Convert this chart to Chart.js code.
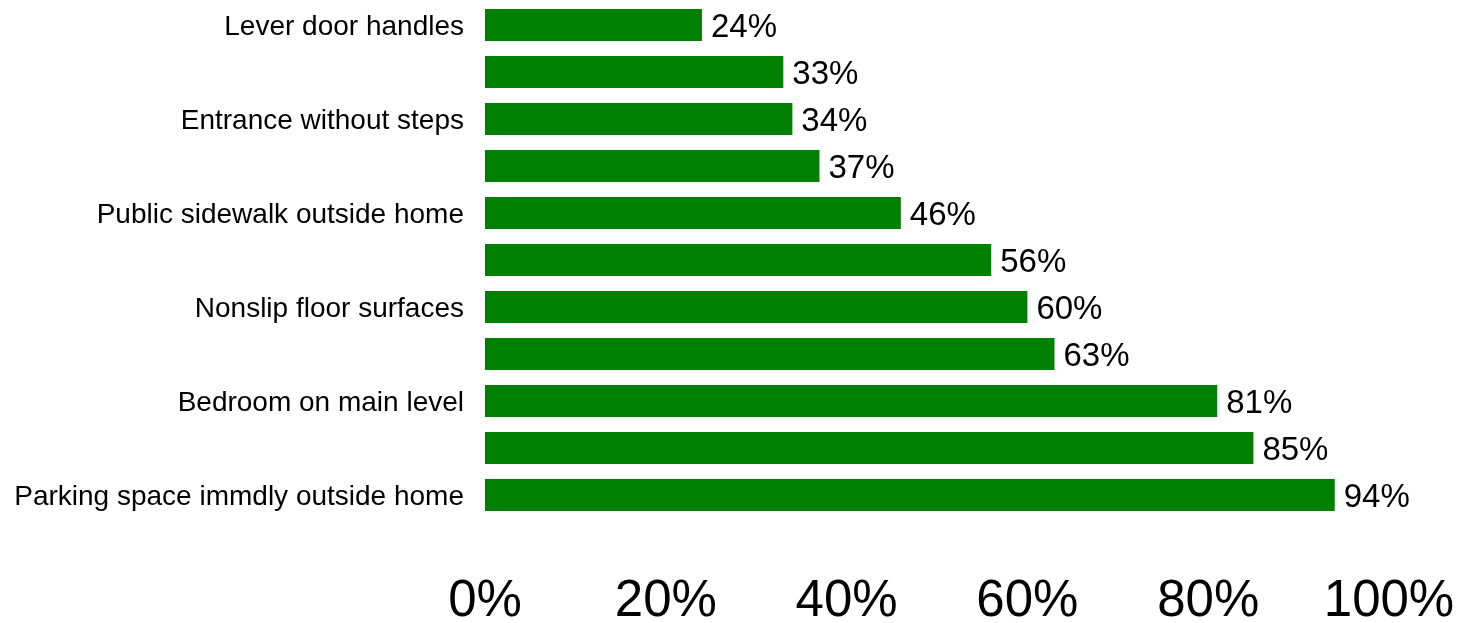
<!DOCTYPE html>
<html>
<head>
<meta charset="utf-8">
<script src="https://cdn.jsdelivr.net/npm/chart.js@4"></script>
<style>
  html, body { margin: 0; padding: 0; background: #fff; }
  #wrap { width: 1466px; height: 623px; }
</style>
</head>
<body>
<div id="wrap"><canvas id="mycanvas" width="1466" height="623"></canvas></div>
<script>
// features, top to bottom (every other one left unlabeled)
var categories = [
    'Lever door handles',
    '',
    'Entrance without steps',
    '',
    'Public sidewalk outside home',
    '',
    'Nonslip floor surfaces',
    '',
    'Bedroom on main level',
    '',
    'Parking space immdly outside home'
];
var values = [24, 33, 34, 37, 46, 56, 60, 63, 81, 85, 94]; // percent
var xTicks = [0, 20, 40, 60, 80, 100];

var FONT = '"Liberation Sans", Arial, sans-serif';

// writes "NN%" just past the end of each bar
var valueLabels = {
    id: 'valueLabels',
    afterDatasetsDraw: function(chart) {
        var ctx = chart.ctx;
        var meta = chart.getDatasetMeta(0);
        ctx.save();
        ctx.font = '33px ' + FONT;
        ctx.fillStyle = '#000';
        ctx.textAlign = 'left';
        ctx.textBaseline = 'middle';
        meta.data.forEach(function(bar, i) {
            ctx.fillText(values[i] + '%', bar.x + 9, bar.y + 3);
        });
        ctx.restore();
    }
};

var ctx = document.getElementById('mycanvas');
var chart = new Chart(ctx, {
    type: 'bar',
    data: {
        labels: categories,
        datasets: [{
            label: 'Share',
            backgroundColor: '#008000',
            borderWidth: 0,
            data: values,
            barPercentage: 0.68,
            categoryPercentage: 1.0
        }]
    },
    options: {
        indexAxis: 'y',
        responsive: false,
        animation: false,
        layout: {
            padding: { top: 1.5, right: 77, bottom: 0, left: 0 }
        },
        scales: {
            x: {
                min: 0,
                max: 100,
                afterBuildTicks: function(axis) {
                    axis.ticks = xTicks.map(function(v) { return { value: v }; });
                },
                afterFit: function(axis) {
                    // fixed axis band, no extra side padding from the end labels
                    axis.height = 104.5;
                    axis.paddingLeft = 0;
                    axis.paddingRight = 0;
                },
                grid: { display: false, drawTicks: false },
                border: { display: false },
                ticks: {
                    padding: 53,
                    color: '#000',
                    maxRotation: 0,
                    font: { family: FONT, size: 51 },
                    callback: function(v) { return v + '%'; }
                }
            },
            y: {
                afterFit: function(axis) {
                    axis.width = 485;
                    axis.paddingTop = 0;
                    axis.paddingBottom = 0;
                },
                grid: { display: false, drawTicks: false },
                border: { display: false },
                ticks: {
                    padding: 21,
                    labelOffset: 2,
                    color: '#000',
                    autoSkip: false,
                    font: { family: FONT, size: 28 }
                }
            }
        },
        plugins: {
            legend: { display: false },
            tooltip: { enabled: false }
        }
    },
    plugins: [valueLabels]
});
</script>
</body>
</html>
